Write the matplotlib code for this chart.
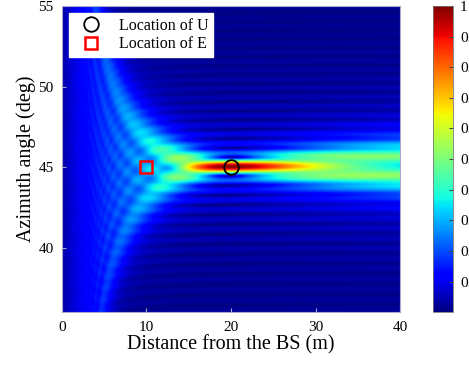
import numpy as np
import matplotlib
matplotlib.use('Agg')
import matplotlib.pyplot as plt

plt.rcParams['font.family'] = ['Liberation Serif', 'DejaVu Serif']

# === 參數 ===
c = 3e8
fc = 35e9
N = 470
ang_scale = 1.7       # 圖上角度 / 模型角度 (以 U 方向為中心)
user_loc = (20, 45)   # (m, deg)
eve_loc = (10, 45)
dist = np.arange(0.2, 40.01, 0.2)
ang = np.arange(36, 55.001, 0.05)
xticks = [0, 10, 20, 30, 40]
yticks = [40, 45, 50, 55]
cbar_ticks = [0.1, 0.2, 0.3, 0.4, 0.5, 0.6, 0.7, 0.8, 0.9, 1]

# === 近場波束增益 (ULA, 半波長間距) ===
def beam_gain():
    lam = c / fc
    k = 2 * np.pi / lam
    t_model = user_loc[1] + (ang - user_loc[1]) / ang_scale
    R, T = np.meshgrid(dist, np.deg2rad(t_model))
    r0, t0 = user_loc[0], np.deg2rad(user_loc[1])
    acc = np.zeros(R.shape, complex)
    for n in np.arange(N) - (N - 1) / 2:
        x = n * lam / 2
        rn = np.sqrt(R**2 + x**2 - 2 * R * x * np.cos(T))
        rn0 = np.sqrt(r0**2 + x**2 - 2 * r0 * x * np.cos(t0))
        acc += np.exp(-1j * k * (rn - rn0))
    G = np.abs(acc) / N
    return G / G.max()

G = beam_gain()

fig = plt.figure(figsize=(4.69, 3.69), dpi=100)
ax = fig.add_axes([0.132, 0.154, 0.721, 0.83])
im = ax.imshow(G, origin='lower', aspect='auto', cmap='jet', vmin=0, vmax=1,
               extent=[0, 40, 36, 55], interpolation='bilinear')
ax.plot(*user_loc, 'o', mfc='none', mec='black', ms=10.5, mew=1.3, label='Location of U')
ax.plot(*eve_loc, 's', mfc='none', mec='red', ms=9, mew=1.8, label='Location of E')
ax.set_xlim(0, 40)
ax.set_ylim(36, 55)
ax.set_xticks(xticks)
ax.set_yticks(yticks)
ax.tick_params(direction='in', length=3, color='#a8a8d0', labelsize=11, pad=6)
for sp in ax.spines.values():
    sp.set_color('#a8a8d0')
    sp.set_linewidth(0.8)
ax.set_xlabel('Distance from the BS (m)', fontsize=14.5, labelpad=1)
ax.set_ylabel('Azimuth angle (deg)', fontsize=14.5, labelpad=2)

leg = ax.legend(loc='upper left', fontsize=11.5, frameon=True, fancybox=False,
                borderaxespad=0.45, handletextpad=0.6, borderpad=0.3,
                labelspacing=0.15, handlelength=2.2)
leg.get_frame().set_edgecolor('white')
leg.get_frame().set_alpha(1)

cax = fig.add_axes([0.923, 0.154, 0.043, 0.83])
cb = fig.colorbar(im, cax=cax, ticks=cbar_ticks)
cb.ax.tick_params(direction='in', length=3, color='#444444', labelsize=11, pad=5)
cb.ax.set_yticklabels(['0.1', '0.2', '0.3', '0.4', '0.5', '0.6', '0.7', '0.8', '0.9', '1'])
cb.outline.set_edgecolor('#777777')
cb.outline.set_linewidth(0.6)

plt.savefig('out.png', dpi=100)
